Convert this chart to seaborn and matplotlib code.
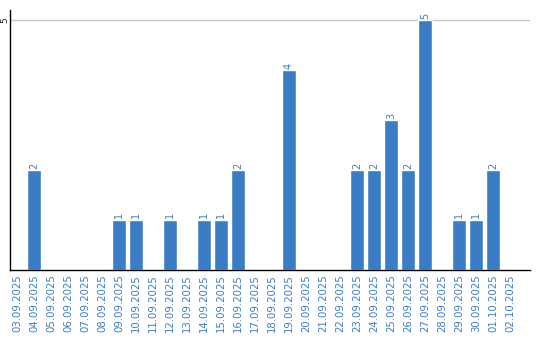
import matplotlib
matplotlib.use("Agg")
import matplotlib.pyplot as plt
import seaborn as sns
import pandas as pd

dates = ["03.09.2025", "04.09.2025", "05.09.2025", "06.09.2025", "07.09.2025",
         "08.09.2025", "09.09.2025", "10.09.2025", "11.09.2025", "12.09.2025",
         "13.09.2025", "14.09.2025", "15.09.2025", "16.09.2025", "17.09.2025",
         "18.09.2025", "19.09.2025", "20.09.2025", "21.09.2025", "22.09.2025",
         "23.09.2025", "24.09.2025", "25.09.2025", "26.09.2025", "27.09.2025",
         "28.09.2025", "29.09.2025", "30.09.2025", "01.10.2025", "02.10.2025"]
values = [0, 2, 0, 0, 0, 0, 1, 1, 0, 1, 0, 1, 1, 2, 0, 0, 4, 0, 0, 0,
          2, 2, 3, 2, 5, 0, 1, 1, 2, 0]
y_ticks = [5]

sns.set_style("white")
plt.rcParams["font.family"] = ["DejaVu Sans"]

df = pd.DataFrame({"date": dates, "value": values})
fig = plt.figure(figsize=(5.4, 3.4), dpi=100)
ax = fig.add_axes([10/540, 70/340, 520/540, 260/340])

bar_color = "#3b7dc4"
sns.barplot(data=df, x="date", y="value", color=bar_color, width=0.82,
            saturation=1, ax=ax, zorder=2)

for i, v in enumerate(values):
    if v > 0:
        ax.text(i, v + 0.03, str(v), rotation=90, ha="center", va="bottom",
                fontsize=7, color=bar_color)

ax.set_ylim(0, 5.2)
ax.set_xlim(-0.41, len(dates) - 1 + 1.18)
ax.set_yticks(y_ticks)
ax.set_yticklabels([str(t) for t in y_ticks], rotation=90, fontsize=6.5,
                   va="center", ha="center")
ax.yaxis.grid(True, color="#c8c8c8", linewidth=1, zorder=0)
ax.set_axisbelow(True)
ax.tick_params(axis="y", length=0, pad=3.5)
ax.tick_params(axis="x", length=0, pad=3)
ax.set_xticks(range(len(dates)))
ax.set_xticklabels(dates, rotation=90, fontsize=7.3, color=bar_color)
ax.set_xlabel("")
ax.set_ylabel("")
for s in ["top", "right"]:
    ax.spines[s].set_visible(False)
for s in ["left", "bottom"]:
    ax.spines[s].set_color("black")
    ax.spines[s].set_linewidth(1)

fig.savefig("out.png", dpi=100)
